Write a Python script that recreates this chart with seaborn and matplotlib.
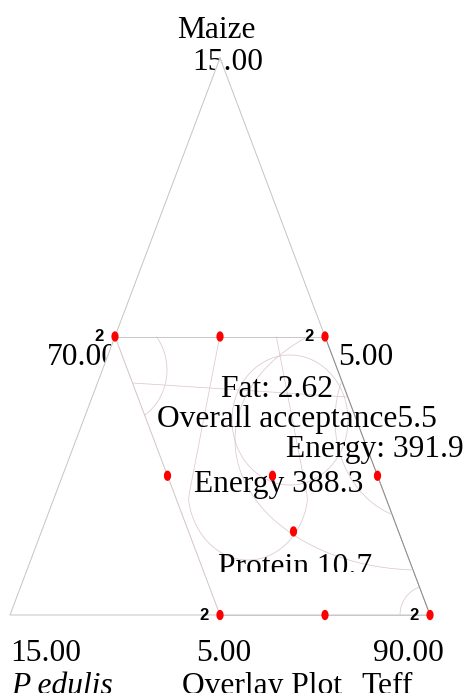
import numpy as np
import pandas as pd
import matplotlib
matplotlib.use("Agg")
import matplotlib.pyplot as plt
from matplotlib.path import Path
from matplotlib.transforms import Bbox
import seaborn as sns

# ---------------- data ----------------
components = ["Maize", "P edulis", "Teff"]
vertex_values = ["15.00", "15.00", "90.00"]     # Maize apex, P edulis corner, Teff corner
side_values = ["70.00", "5.00", "5.00"]        # left side, right side, bottom middle
# design points in pseudo-component fractions (Maize, P edulis, Teff)
maize   = [0.50, 0.50, 0.50, 0.25, 0.25, 0.25, 0.15, 0.00, 0.00, 0.00]
pedulis = [0.50, 0.25, 0.00, 0.50, 0.25, 0.00, 0.25, 0.50, 0.25, 0.00]
teff    = [0.00, 0.25, 0.50, 0.25, 0.50, 0.75, 0.60, 0.50, 0.75, 1.00]
replicates = [2, 1, 2, 1, 1, 1, 1, 2, 1, 2]
contour_labels = ["Fat: 2.62", "Overall acceptance5.5", "Energy: 391.9",
                  "Energy 388.3", "Protein 10.7"]
title = "Overlay Plot"

# ---------------- figure ----------------
W, H = 467, 693
fig = plt.figure(figsize=(W / 100, H / 100), dpi=100)
ax = fig.add_axes([0, 0, 1, 1])

# data coords: X = teff + maize/2, Y = maize ; pixel mapping
def d2p(X, Y):
    return 10 + 420 * X, 615 - 557 * Y

def p2d(px, py):
    return (px - 10) / 420, (615 - py) / 557

x0, y1 = p2d(0, 0)
x1, y0 = p2d(W, H)
ax.set_xlim(x0, x1)
ax.set_ylim(y0, y1)
ax.axis("off")

df = pd.DataFrame({"Maize": maize, "Pedulis": pedulis, "Teff": teff, "rep": replicates})
df["X"] = df["Teff"] + df["Maize"] / 2
df["Y"] = df["Maize"]

# white triangle (hides the outside labels where they overlap it)
tri = np.array([[0.5, 1.0], [0.0, 0.0], [1.0, 0.0]])
ax.fill(tri[:, 0], tri[:, 1], color="white", zorder=2)
tri_c = np.vstack([tri, tri[:1]])
ax.plot(tri_c[:, 0], tri_c[:, 1], color="#c4c4c4", lw=0.7, zorder=3)

# feasible region (Maize <= .5, P edulis <= .5)
reg = np.array([[0.25, 0.5], [0.75, 0.5], [1.0, 0.0], [0.5, 0.0], [0.25, 0.5]])
ax.plot(reg[:2, 0], reg[:2, 1], color="#c8c8c8", lw=0.7, zorder=3)
ax.plot(reg[1:3, 0], reg[1:3, 1], color="#8c8c8c", lw=0.7, zorder=3)
ax.plot(reg[2:4, 0], reg[2:4, 1], color="#c8c8c8", lw=0.7, zorder=3)
ax.plot(reg[3:5, 0], reg[3:5, 1], color="#d2c4c6", lw=0.7, zorder=3)

# response contours (overlay)
gx, gy = np.meshgrid(np.linspace(0, 1, 500), np.linspace(0, 0.5, 300))
a = gy
c = gx - gy / 2
b = 1 - a - c
mask = (c < -1e-3) | (b < -1e-3) | (b > 0.5 + 1e-3)
px, py = d2p(gx, gy)

w = np.where(py < 500, 28 + 32 * (py - 335) / 165, 60)
responses = [
    (py - (383 + (px - 133) * 14 / 214), 0),
    (((px - 290) / 58) ** 2 + ((py - 420) / 65) ** 2, 1),
    (((px - 420) / 85) ** 2 + ((py - 420) / 100) ** 2, 1),
    (((px - 248) / w) ** 2 + (np.maximum(0, py - 490) / 70) ** 2, 1),
    (((px - 420) / 185) ** 2 + ((py - 440) / 130) ** 2, 1),
    (((px - 115) / 52) ** 2 + ((py - 370) / 55) ** 2, 1),
    (np.hypot(px - 430, py - 615), 30),
]
for z, lev in responses:
    ax.contour(gx, gy, np.ma.array(z, mask=mask), levels=[lev],
               colors="#dcc8cb", linewidths=0.55, zorder=3)

# design points
theta = np.linspace(0, 2 * np.pi, 60)
ell = Path(np.column_stack([0.7 * np.cos(theta), np.sin(theta)]), closed=True)
sns.scatterplot(data=df, x="X", y="Y", ax=ax, marker=ell, s=55,
                color="#ff0000", edgecolor="none", linewidth=0, zorder=6,
                legend=False)
for _, r in df[df["rep"] > 1].iterrows():
    ax.annotate(str(int(r["rep"])), (r["X"], r["Y"]), xytext=(-8.0, -3.3),
                textcoords="offset points", ha="right", va="baseline",
                fontsize=12, fontweight="bold", family="Liberation Sans",
                color="black", zorder=6)

serif = dict(family="Liberation Serif", fontsize=22.7, color="black")

def txt(px_, py_, s, ha="center", z=1, **kw):
    X, Y = p2d(px_, py_)
    return ax.text(X, Y, s, ha=ha, va="baseline", zorder=z, **serif, **kw)

# vertex / side labels (behind the white triangle)
txt(216, 38, components[0])
txt(228, 70, vertex_values[0])
txt(47, 365, side_values[0], ha="left")
txt(338, 365, side_values[1], ha="left")
txt(46, 661, vertex_values[1])
txt(224, 661, side_values[2])
txt(408, 661, vertex_values[2])
txt(62, 694, components[1], style="italic")
txt(262, 694, title)
txt(387, 694, components[2])

# contour labels
txt(277, 397, contour_labels[0], z=5)
txt(297, 427, contour_labels[1], z=5)
txt(375, 457, contour_labels[2], z=5)
txt(279, 492, contour_labels[3], z=5)
t = txt(295, 575, contour_labels[4], z=5)
t.set_clip_box(Bbox([[0, H - 572], [W, H]]))
t.set_clip_on(True)

fig.savefig("out.png", dpi=100)
